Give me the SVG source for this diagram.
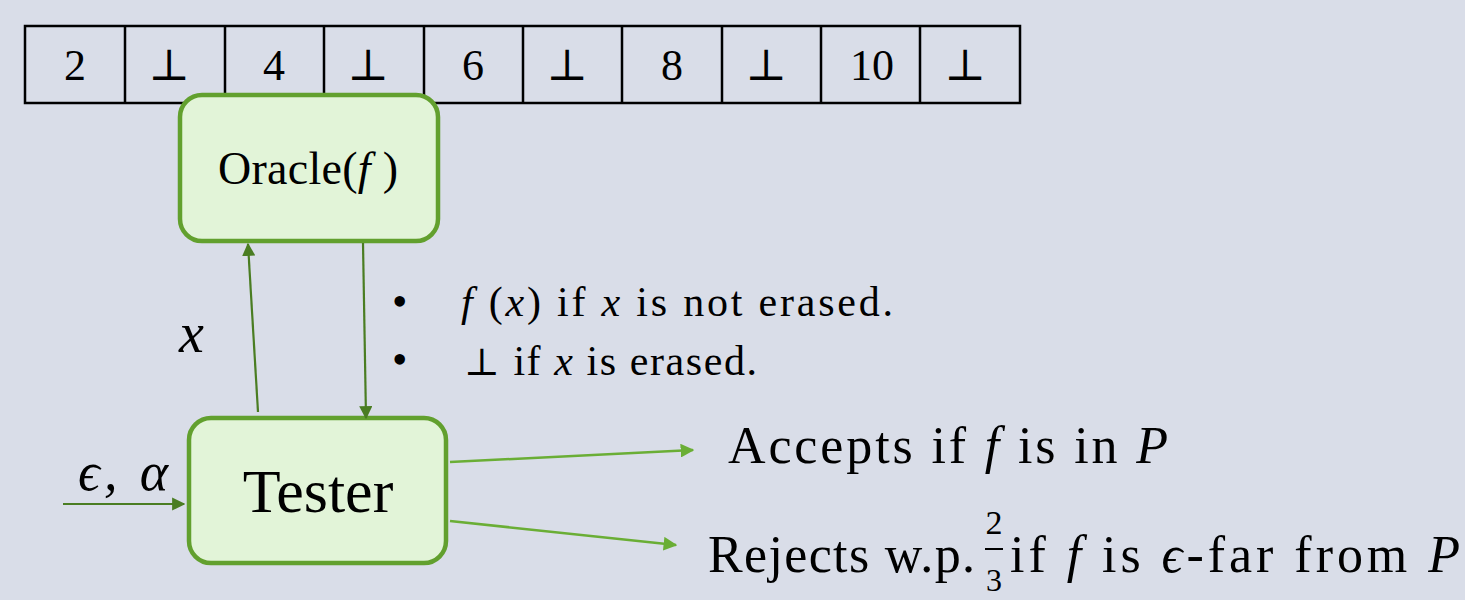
<svg xmlns="http://www.w3.org/2000/svg" width="1465" height="600" viewBox="0 0 1465 600">
<defs>
<style>
.t{font-family:"Liberation Serif","DejaVu Serif",serif;fill:#000}
.i{font-style:italic}
.bot{font-family:"DejaVu Serif","Liberation Serif",serif;font-size:44px}
.cell{fill:none;stroke:#000;stroke-width:2.5}
.box{fill:#E2F4D8;stroke:#62A02E;stroke-width:4.5}
.dk{stroke:#4A7D22;stroke-width:2.2;fill:none}
.lt{stroke:#6AAE35;stroke-width:2.5;fill:none}
</style>
<marker id="ad" viewBox="0 0 10 10" refX="9" refY="5" markerWidth="6" markerHeight="6" orient="auto" markerUnits="strokeWidth"><path d="M0,0 L10,5 L0,10 z" fill="#4A7D22"/></marker>
<marker id="al" viewBox="0 0 10 10" refX="9" refY="5" markerWidth="5.5" markerHeight="5.5" orient="auto" markerUnits="strokeWidth"><path d="M0,0 L10,5 L0,10 z" fill="#6AAE35"/></marker>
</defs>
<rect width="1465" height="600" fill="#D9DDE8"/>
<g id="array">
<rect class="cell" x="25" y="26" width="995" height="77"/>
<path class="cell" d="M125,26V103M225,26V103M324,26V103M424,26V103M523,26V103M622,26V103M722,26V103M821,26V103M920,26V103"/>
<g class="t" font-size="44" text-anchor="middle">
<text x="75" y="80">2</text>
<text x="274" y="80">4</text>
<text x="473" y="80">6</text>
<text x="672" y="80">8</text>
<text x="872" y="80">10</text>
</g>
<g class="bot" text-anchor="middle">
<text x="169" y="80">⊥</text>
<text x="368" y="80">⊥</text>
<text x="567" y="80">⊥</text>
<text x="766" y="80">⊥</text>
<text x="965" y="80">⊥</text>
</g>
</g>
<g id="oracle">
<rect class="box" x="180" y="95" width="258" height="146" rx="22"/>
<text class="t" x="218" y="184" font-size="46" textLength="180" lengthAdjust="spacing">Oracle(<tspan class="i">f</tspan> )</text>
</g>
<g id="tester">
<rect class="box" x="189" y="418" width="257" height="145" rx="22"/>
<text class="t" x="318" y="512" font-size="62" text-anchor="middle">Tester</text>
</g>
<g id="connectors">
<line class="dk" x1="258" y1="412" x2="248" y2="244" marker-end="url(#ad)"/>
<line class="dk" x1="363" y1="243" x2="366" y2="418" marker-end="url(#ad)"/>
<line class="dk" x1="63" y1="504" x2="184" y2="504" marker-end="url(#ad)"/>
<line class="lt" x1="450" y1="462" x2="693" y2="450" marker-end="url(#al)"/>
<line class="lt" x1="450" y1="521" x2="676" y2="545" marker-end="url(#al)"/>
</g>
<g id="labels">
<text class="t i" x="179" y="352" font-size="56">x</text>
<text class="t i" x="78" y="490" font-size="54" textLength="90" lengthAdjust="spacing">ϵ, α</text>
<text class="t" x="392" y="316" font-size="44">•</text>
<text class="t" x="392" y="374" font-size="44">•</text>
<text class="t" x="461" y="316" font-size="42" textLength="432" lengthAdjust="spacing"><tspan class="i">f</tspan> (<tspan class="i">x</tspan>) if <tspan class="i">x</tspan> is not erased.</text>
<text class="t" x="464" y="375" font-size="42" textLength="293" lengthAdjust="spacing"><tspan font-family="DejaVu Serif" font-size="38">⊥</tspan> if <tspan class="i">x</tspan> is erased.</text>
<text class="t" x="728" y="463" font-size="52" textLength="440" lengthAdjust="spacing">Accepts if <tspan class="i">f</tspan> is in <tspan class="i">P</tspan></text>
<text class="t" x="708" y="572" font-size="52" textLength="267" lengthAdjust="spacing">Rejects w.p.</text>
<text class="t" x="994" y="534" font-size="34" text-anchor="middle">2</text>
<line x1="985" y1="549" x2="1003" y2="549" stroke="#000" stroke-width="2"/>
<text class="t" x="994" y="591" font-size="32" text-anchor="middle">3</text>
<text class="t" x="1010" y="572" font-size="52" textLength="450" lengthAdjust="spacing">if <tspan class="i">f</tspan> is <tspan class="i">ϵ</tspan>-far from <tspan class="i">P</tspan></text>
</g>
</svg>
